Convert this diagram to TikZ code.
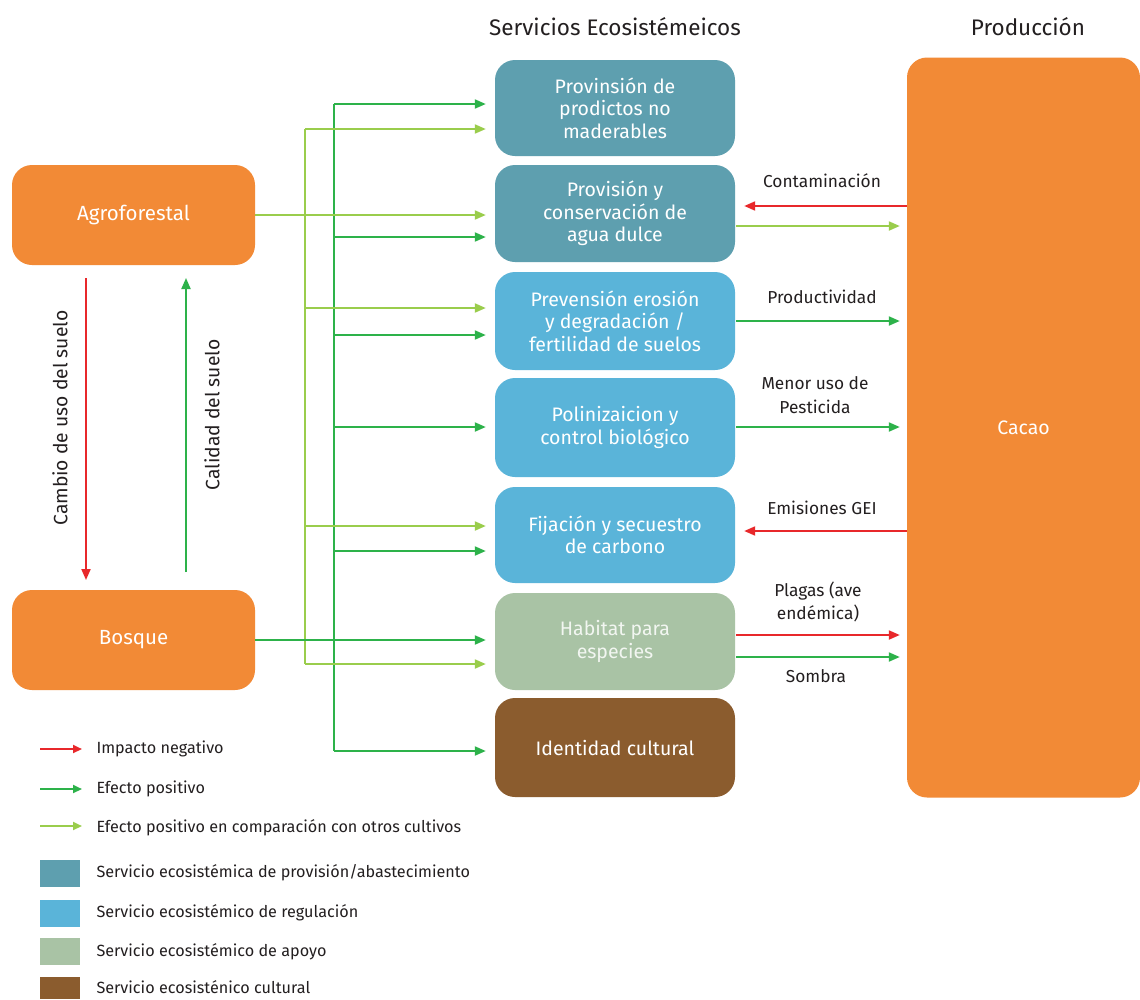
\documentclass[tikz,border=0pt]{standalone}
\usepackage{fontspec}
\setmainfont{Fira Sans}
\usetikzlibrary{arrows.meta}
\definecolor{orng}{HTML}{F28A36}
\definecolor{redc}{HTML}{E8282B}
\definecolor{dgreen}{HTML}{2DB24A}
\definecolor{lgreen}{HTML}{9ACD4C}
\definecolor{provc}{HTML}{5E9FAF}
\definecolor{regc}{HTML}{5AB4D9}
\definecolor{apoc}{HTML}{A9C3A5}
\definecolor{cultc}{HTML}{8B5C2E}
\definecolor{txt}{HTML}{231F20}
\tikzset{
  box/.style={rounded corners=20pt, inner sep=0pt, text=white, align=center,
    font=\fontsize{19.5}{22.5}\selectfont},
  svc/.style={box, minimum width=240pt},
  lineb/.style={line width=2pt},
  arr/.style={lineb, -{Triangle[length=11pt,width=9pt]}},
  dga/.style={arr, draw=dgreen, shorten >=9pt},
  lga/.style={arr, draw=lgreen, shorten >=9pt},
  rda/.style={arr, draw=redc},
  lbl/.style={text=txt, font=\fontsize{17.3}{23.5}\selectfont, align=center},
  leg/.style={text=txt, font=\fontsize{16.2}{18}\selectfont, anchor=west},
  title/.style={text=txt, font=\fontsize{22.5}{26}\selectfont}
}
\begin{document}
\begin{tikzpicture}[x=1pt,y=-1pt]
\useasboundingbox[fill=white] (0,0) rectangle (1140,999);

% titles
\node[title] (t1) at (615,27) {Servicios Ecosistémeicos};
\node[title] (t2) at (1028,27) {Producción};

% left nodes
\node[box, fill=orng, minimum width=243pt, minimum height=100pt, font=\fontsize{20.5}{24}\selectfont] (agro) at (133.5,215) {Agroforestal};
\node[box, fill=orng, minimum width=243pt, minimum height=100pt, font=\fontsize{20.5}{24}\selectfont] (bosq) at (133.5,640) {Bosque};

% services
\node[svc, fill=provc, minimum height=96pt] (s1) at (615,108) {Provinsión de\\prodictos no\\maderables};
\node[svc, fill=provc, minimum height=97pt] (s2) at (615,213.5) {Provisión y\\conservación de\\agua dulce};
\node[svc, fill=regc, minimum height=98pt] (s3) at (615,321) {Prevensión erosión\\y degradación /\\fertilidad de suelos};
\node[svc, fill=regc, minimum height=99pt] (s4) at (615,427.5) {Polinizaicion y\\control biológico};
\node[svc, fill=regc, minimum height=96pt] (s5) at (615,535) {Fijación y secuestro\\de carbono};
\node[svc, fill=apoc, minimum height=97pt, text=white!85!apoc] (s6) at (615,641.5) {Habitat para\\especies};
\node[svc, fill=cultc, minimum height=99pt] (s7) at (615,747.5) {Identidad cultural};

% production
\node[box, fill=orng, minimum width=233pt, minimum height=740pt] (cacao) at (1023.5,427.5) {Cacao};

% left vertical arrows
\coordinate (rt) at (86,278);
\coordinate (rb) at (86,580);
\coordinate (gt) at (186,278);
\coordinate (gb) at (186,572);
\draw[rda] (rt) -- (rb);
\draw[arr, draw=dgreen] (gb) -- (gt);
\node[text=txt, font=\fontsize{19.3}{22}\selectfont, rotate=90] (lab1) at (60,418) {Cambio de uso del suelo};
\node[text=txt, font=\fontsize{19.3}{22}\selectfont, rotate=90] (lab2) at (212,415) {Calidad del suelo};

% light green bus
\coordinate (l1) at (305,129);
\coordinate (l3) at (305,308);
\coordinate (l5) at (305,526);
\coordinate (l6) at (305,664);
\draw[lineb, draw=lgreen] (l1) -- (l6);
% dark green bus
\coordinate (d1) at (334,104);
\coordinate (d2) at (334,237);
\coordinate (d3) at (334,335);
\coordinate (d4) at (334,427);
\coordinate (d5) at (334,551);
\coordinate (d7) at (334,751);
\draw[lineb, draw=dgreen] (d1) -- (d7);

% agro / bosque feeds
\draw[lga] (agro.east) -- (agro.east -| s2.west);
\draw[dga] (bosq.east) -- (bosq.east -| s6.west);

% light green branches
\draw[lga] (l1) -- (l1 -| s1.west);
\draw[lga] (l3) -- (l3 -| s3.west);
\draw[lga] (l5) -- (l5 -| s5.west);
\draw[lga] (l6) -- (l6 -| s6.west);
% dark green branches
\draw[dga] (d1) -- (d1 -| s1.west);
\draw[dga] (d2) -- (d2 -| s2.west);
\draw[dga] (d3) -- (d3 -| s3.west);
\draw[dga] (d4) -- (d4 -| s4.west);
\draw[dga] (d5) -- (d5 -| s5.west);
\draw[dga] (d7) -- (d7 -| s7.west);

% right side arrows
\coordinate (c1) at (907,206);
\coordinate (c2) at (736,226);
\coordinate (c3) at (736,321);
\coordinate (c4) at (736,427);
\coordinate (c5) at (907,531);
\coordinate (c6) at (736,635);
\coordinate (c7) at (736,657);
\draw[rda, shorten >=9pt] (c1) -- (c1 -| s2.east);
\draw[lga, shorten >=7pt] (c2) -- (c2 -| cacao.west);
\draw[dga, shorten >=7pt] (c3) -- (c3 -| cacao.west);
\draw[dga, shorten >=7pt] (c4) -- (c4 -| cacao.west);
\draw[rda, shorten >=9pt] (c5) -- (c5 -| s5.east);
\draw[rda, shorten >=7pt] (c6) -- (c6 -| cacao.west);
\draw[dga, shorten >=7pt] (c7) -- (c7 -| cacao.west);

\node[lbl] (e1) at (822,181) {Contaminación};
\node[lbl] (e2) at (822,297) {Productividad};
\node[lbl] (e3) at (815,395) {Menor uso de\\Pesticida};
\node[lbl] (e4) at (822,508) {Emisiones GEI};
\node[lbl] (e5) at (818,602) {Plagas (ave\\endémica)};
\node[lbl] (e6) at (816,676) {Sombra};

% legend
\coordinate (a1) at (40,749); \coordinate (b1) at (82,749);
\coordinate (a2) at (40,789); \coordinate (b2) at (82,789);
\coordinate (a3) at (40,826); \coordinate (b3) at (82,826);
\draw[line width=2pt, draw=redc, -{Triangle[length=9pt,width=8pt]}] (a1) -- (b1);
\draw[line width=2pt, draw=dgreen, -{Triangle[length=9pt,width=8pt]}] (a2) -- (b2);
\draw[line width=2pt, draw=lgreen, -{Triangle[length=9pt,width=8pt]}] (a3) -- (b3);
\node[leg] (g1) at (93,749) {Impacto negativo};
\node[leg] (g2) at (93,789) {Efecto positivo};
\node[leg] (g3) at (93,828) {Efecto positivo en comparación con otros cultivos};
\fill[provc] (40,860) rectangle (80,887);
\fill[regc] (40,900) rectangle (80,927);
\fill[apoc] (40,938) rectangle (80,965);
\fill[cultc] (40,977) rectangle (80,999);
\node[leg] (g4) at (93,873) {Servicio ecosistémica de provisión/abastecimiento};
\node[leg] (g5) at (93,913) {Servicio ecosistémico de regulación};
\node[leg] (g6) at (93,952) {Servicio ecosistémico de apoyo};
\node[leg, inner ysep=1pt] (g7) at (93,987.5) {Servicio ecosisténico cultural};
\end{tikzpicture}
\end{document}
